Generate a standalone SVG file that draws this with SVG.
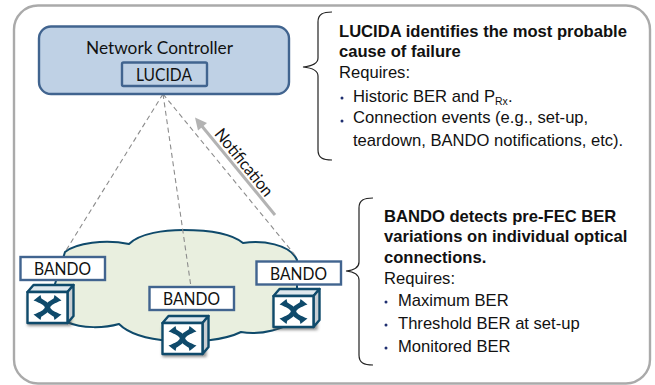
<svg xmlns="http://www.w3.org/2000/svg" xmlns:xlink="http://www.w3.org/1999/xlink" width="655" height="385" viewBox="0 0 655 385">
<style>
.cal{font-family:Lato,"Open Sans",sans-serif;fill:#111;font-size:16.8px}
.ar{font-family:"Liberation Sans",Arial,sans-serif;font-size:16.6px;fill:#111}
.b{font-weight:bold}
.box{fill:#fff;stroke:#41648f;stroke-width:2.4}
.dash{fill:none;stroke:#8c8c8c;stroke-width:1.1;stroke-dasharray:5 3.500}
.brace{fill:none;stroke:#222;stroke-width:1.2}
.dot{fill:#1f2f70}
.sw{stroke:#0f4a6b;stroke-width:2.400;stroke-linejoin:round}
</style>
<defs>
<filter id="sh" x="-20%" y="-20%" width="150%" height="150%"><feGaussianBlur stdDeviation="1.6"/></filter>
<g id="switch">
<rect x="0" y="3" width="44" height="31" fill="#444" opacity=".6" filter="url(#sh)"/>
<polygon class="sw" points="0,0 40,0 46,-7 6,-7" fill="#dfe8ee"/>
<polygon class="sw" points="40,0 46,-7 46,24 40,31" fill="#c9ced3"/>
<rect class="sw" x="0" y="0" width="40" height="31" fill="#fff"/>
<path d="M10,7.500 Q19,11 20,15.500 Q19,20 10,23.500 M30,7.500 Q21,11 20,15.500 Q21,20 30,23.500" fill="none" stroke="#0f4a6b" stroke-width="5"/>
<path d="M6,8.500 L13,3 L15,11.500 Z M34,8.500 L27,3 L25,11.500 Z M6,22.500 L13,28 L15,19.500 Z M34,22.500 L27,28 L25,19.500 Z" fill="#0f4a6b"/>
</g>
</defs>

<rect id="frame" x="14" y="5.500" width="636" height="378" rx="24" fill="#fff" stroke="#aaa" stroke-width="2.400"/>

<g id="cloud">
<path d="M65,252 C76,243 105,239 129,244 C140,233 165,230 183,230 C205,230 231,233 243,243 C262,240 290,244 297,260 L297,320 C285,328 262,336 241,332 C225,340 195,343 170,341 C145,339 128,333 119,324 C105,328 82,329 67,322 L50,300 Z" fill="#e9efdf" stroke="#0f4a6b" stroke-width="2"/>
</g>

<g id="connectors">
<path class="dash" d="M163,94 L65,252"/>
<path class="dash" d="M163,94 L191,287"/>
<path class="dash" d="M163,94 L295,255"/>
<path d="M275,215 L201,125" fill="none" stroke="#b3b3b3" stroke-width="3"/>
<polygon points="195,117.500 207,123 198,130.500" fill="#b3b3b3"/>
</g>

<g id="controller">
<rect x="39" y="26.500" width="250" height="67.500" rx="12" fill="#bfd1e5" stroke="#41648f" stroke-width="2.400"/>
<text class="cal" x="159.500" y="54" text-anchor="middle" textLength="147" lengthAdjust="spacingAndGlyphs">Network Controller</text>
</g>
<g id="lucida">
<rect x="122" y="62.500" width="85" height="23.500" rx="1.500" fill="none" stroke="#41648f" stroke-width="2.400"/>
<text class="cal" x="164" y="81" text-anchor="middle" textLength="56" lengthAdjust="spacingAndGlyphs">LUCIDA</text>
</g>

<text id="notification" class="cal" transform="translate(239.500,166) rotate(51)" x="0" y="0" text-anchor="middle" textLength="82" lengthAdjust="spacingAndGlyphs">Notification</text>

<g id="bando1">
<use xlink:href="#switch" href="#switch" x="27.500" y="292"/>
<rect class="box" x="20.500" y="257" width="84.500" height="23"/>
<text class="cal" x="62.500" y="275" text-anchor="middle" textLength="57" lengthAdjust="spacingAndGlyphs">BANDO</text>
</g>
<g id="bando2">
<use xlink:href="#switch" href="#switch" x="162.500" y="323"/>
<rect class="box" x="149.500" y="287" width="84.500" height="23"/>
<text class="cal" x="191.500" y="305" text-anchor="middle" textLength="57" lengthAdjust="spacingAndGlyphs">BANDO</text>
</g>
<g id="bando3">
<use xlink:href="#switch" href="#switch" x="273.500" y="296"/>
<rect class="box" x="256.500" y="261.500" width="84.500" height="23"/>
<text class="cal" x="298.500" y="279.500" text-anchor="middle" textLength="57" lengthAdjust="spacingAndGlyphs">BANDO</text>
</g>

<g id="brace-top">
<path class="brace" d="M332,12 C323,12 318,14 318,22 L318,58 C318,63 313,66 303,67 C313,68 318,71 318,76 L318,150 C318,158 323,160 332,160"/>
</g>
<g id="brace-bottom">
<path class="brace" d="M373,198 C364,198 359,200 359,208 L359,262 C359,267 356,270 346,271 C356,272 359,275 359,280 L359,355 C359,363 364,365 373,365"/>
</g>

<g id="note-top">
<text class="ar b" x="339" y="37">LUCIDA identifies the most probable</text>
<text class="ar b" x="339" y="57">cause of failure</text>
<text class="ar" x="339" y="78">Requires:</text>
<circle class="dot" cx="342" cy="98" r="1.500"/>
<text class="ar" x="353" y="102">Historic BER and P<tspan font-size="10.500" dy="3">Rx</tspan><tspan dy="-3">.</tspan></text>
<circle class="dot" cx="342" cy="121" r="1.500"/>
<text class="ar" x="353" y="123">Connection events (e.g., set-up,</text>
<text class="ar" x="353" y="146">teardown, BANDO notifications, etc).</text>
</g>
<g id="note-bottom">
<text class="ar b" x="384" y="222">BANDO detects pre-FEC BER</text>
<text class="ar b" x="384" y="242">variations on individual optical</text>
<text class="ar b" x="384" y="263">connections.</text>
<text class="ar" x="384" y="284">Requires:</text>
<circle class="dot" cx="386" cy="302" r="1.500"/>
<text class="ar" x="398" y="306">Maximum BER</text>
<circle class="dot" cx="386" cy="325" r="1.500"/>
<text class="ar" x="398" y="329">Threshold BER at set-up</text>
<circle class="dot" cx="386" cy="348" r="1.500"/>
<text class="ar" x="398" y="352">Monitored BER</text>
</g>
</svg>
